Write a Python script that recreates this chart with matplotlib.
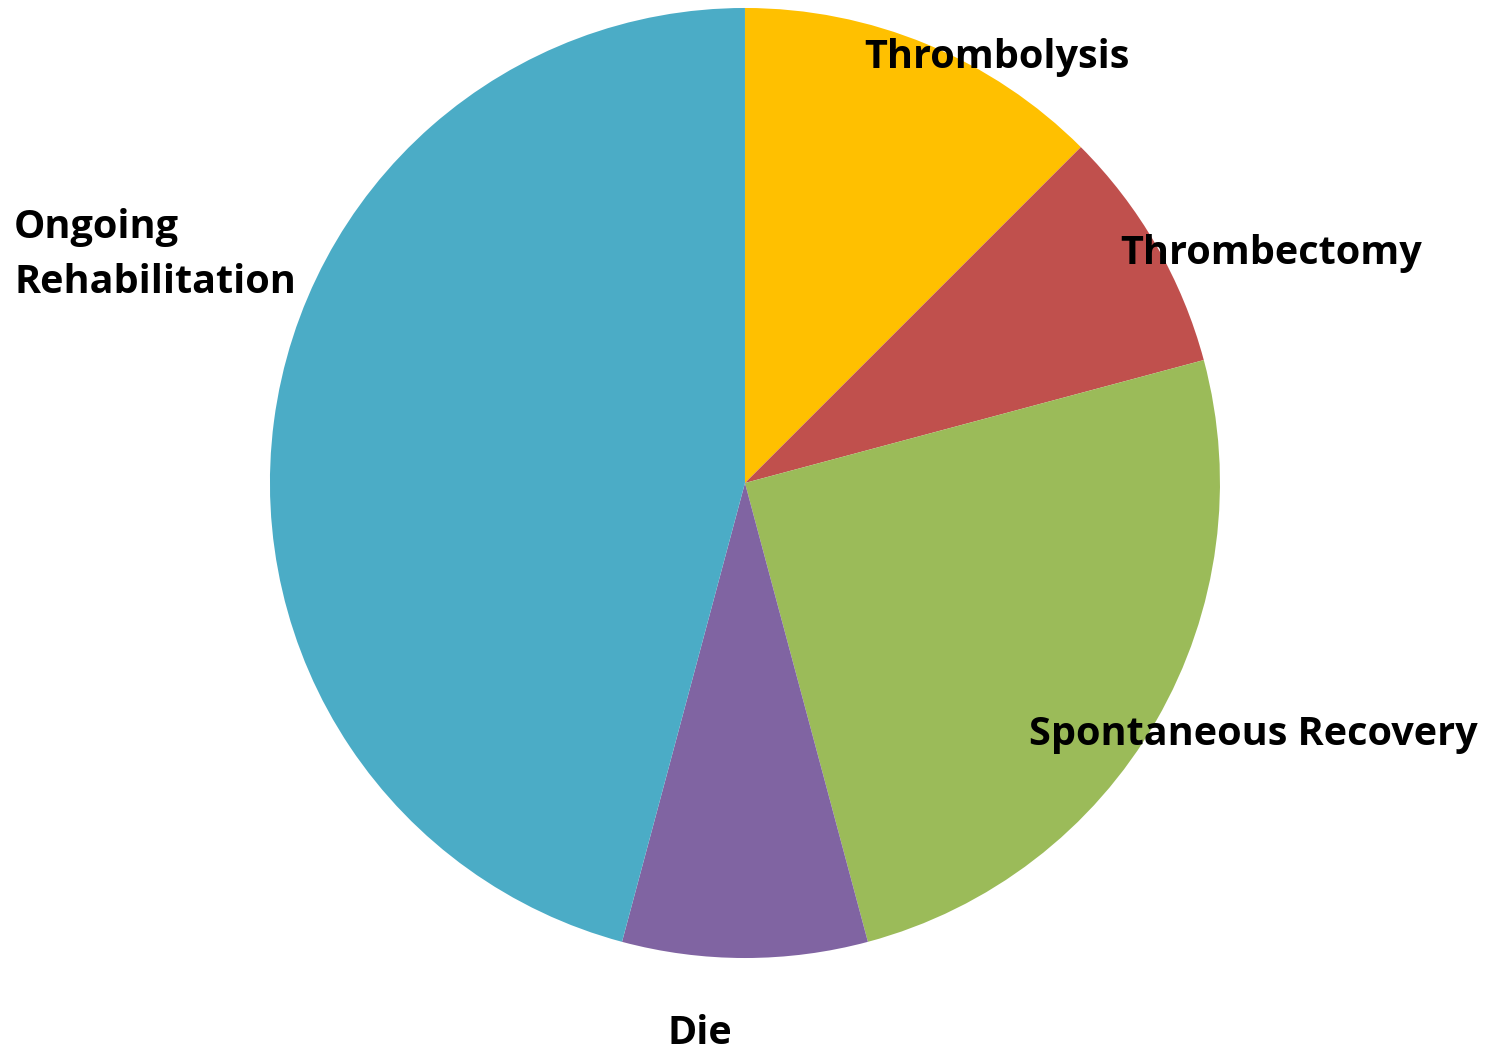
import matplotlib.pyplot as plt

categories = ['Thrombolysis', 'Thrombectomy', 'Spontaneous Recovery', 'Die', 'Ongoing\nRehabilitation']
values = [3, 2, 6, 2, 11]
colors = ['#FFC000', '#C0504D', '#9BBB59', '#8064A2', '#4BACC6']
# label positions in pie units (radius = 1)
label_pos = [(0.53, 0.895), (1.107, 0.484), (1.07, -0.53), (-0.095, -1.158), (-1.242, 0.48)]

fig = plt.figure(figsize=(14.98, 10.5), dpi=100)
ax = fig.add_axes([0.1802, 0.0876, 0.6342, 0.9048])

ax.pie(values, colors=colors, startangle=90, counterclock=False, radius=1,
       wedgeprops=dict(linewidth=0))

for name, (x, y) in zip(categories, label_pos):
    ax.text(x, y, name, ha='center', va='center', fontsize=28.5, fontweight='bold',
            family=['Open Sans', 'DejaVu Sans'], linespacing=1.55,
            multialignment='left')

ax.set_xlim(-1, 1)
ax.set_ylim(-1, 1)
ax.set_aspect('equal')
ax.axis('off')

fig.savefig('out.png', dpi=100)
